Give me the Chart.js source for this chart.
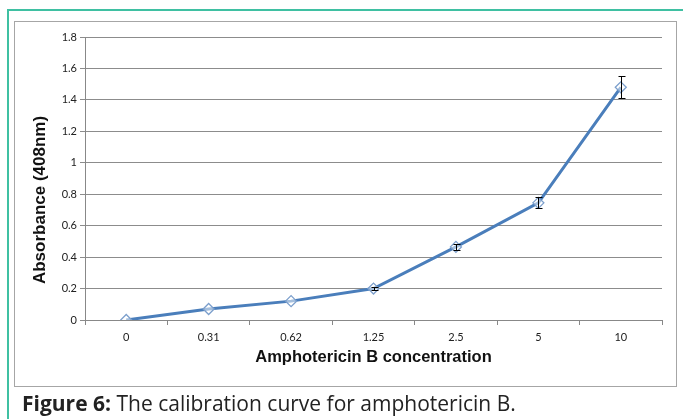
<!DOCTYPE html>
<html>
<head>
<meta charset="utf-8">
<script src="https://cdn.jsdelivr.net/npm/chart.js@4"></script>
<style>
  html, body { margin: 0; padding: 0; background: #fff; }
  #page { position: relative; width: 683px; height: 419px; overflow: hidden; }
  .frame { position: absolute; left: 7px; top: 9px; width: 700px; height: 420px;
           border-left: 2px solid #3fc0a2; border-top: 2px solid #3fc0a2; }
  .box { position: absolute; left: 14px; top: 21px; width: 661px; height: 364px;
         border: 1px solid #a6a6a6; }
  #chart { position: absolute; left: 0; top: 0; }
  .caption { position: absolute; left: 22px; top: 389px; font-family: "Open Sans", sans-serif;
             font-size: 21px; color: #222; white-space: nowrap; }
</style>
</head>
<body>
<div id="page">
  <div class="frame"></div>
  <div class="box"></div>
  <canvas id="chart" width="683" height="419"></canvas>
  <div class="caption"><b>Figure 6:</b> The calibration curve for amphotericin B.</div>
</div>
<script>
// data
const concentrations = ['0', '0.31', '0.62', '1.25', '2.5', '5', '10'];
const absorbance = [0, 0.07, 0.12, 0.2, 0.465, 0.745, 1.48];
const errors = [0, 0, 0, 0.008, 0.02, 0.035, 0.07];
const yTicks = [0, 0.2, 0.4, 0.6, 0.8, 1, 1.2, 1.4, 1.6, 1.8];
const yTitle = 'Absorbance (408nm)';

const tickFont = { family: 'Lato, sans-serif', size: 11 };
const titleFont = { family: '"Liberation Sans", Arial, sans-serif', size: 16.5, weight: 'bold' };

// black error bars on top of the line
const errorBars = {
  id: 'errorBars',
  afterDatasetsDraw(chart) {
    const ctx = chart.ctx;
    const meta = chart.getDatasetMeta(0);
    const y = chart.scales.y;
    ctx.save();
    ctx.strokeStyle = '#000';
    ctx.lineWidth = 1;
    meta.data.forEach((pt, i) => {
      const e = errors[i];
      if (!e) return;
      const top = Math.round(y.getPixelForValue(absorbance[i] + e)) + 0.5;
      const bot = Math.round(y.getPixelForValue(absorbance[i] - e)) + 0.5;
      const x = Math.round(pt.x) + 0.5;
      ctx.beginPath();
      ctx.moveTo(x, top); ctx.lineTo(x, bot);
      ctx.moveTo(x - 3, top); ctx.lineTo(x + 4, top);
      ctx.moveTo(x - 3, bot); ctx.lineTo(x + 4, bot);
      ctx.stroke();
    });
    ctx.restore();
  }
};

// y axis title sits a bit below the plot centre in the original
const yAxisTitle = {
  id: 'yAxisTitle',
  afterDraw(chart) {
    const ctx = chart.ctx;
    ctx.save();
    ctx.translate(40, 200);
    ctx.rotate(-Math.PI / 2);
    ctx.font = 'bold 17px "Liberation Sans", Arial, sans-serif';
    ctx.fillStyle = '#111';
    ctx.textAlign = 'center';
    ctx.textBaseline = 'middle';
    ctx.fillText(yTitle, 0, 0);
    ctx.restore();
  }
};

new Chart(document.getElementById('chart'), {
  type: 'line',
  data: {
    labels: concentrations,
    datasets: [{
      data: absorbance,
      borderColor: '#4a7ebb',
      borderWidth: 3,
      tension: 0,
      pointStyle: 'rectRot',
      pointRadius: 5.5,
      pointBackgroundColor: 'rgba(255,255,255,0.5)',
      pointBorderColor: '#7c9fcc',
      pointBorderWidth: 1.3
    }]
  },
  options: {
    responsive: false,
    animation: false,
    layout: { padding: { left: 30, top: 37, right: 21, bottom: 49 } },
    plugins: { legend: { display: false }, tooltip: { enabled: false } },
    scales: {
      x: {
        offset: true,
        afterFit(s) { s.height = 50; },
        grid: { offset: true, drawOnChartArea: false, drawTicks: true, tickLength: 5, color: '#888' },
        border: { color: '#888' },
        ticks: { color: '#222', font: tickFont, padding: 6, maxRotation: 0 },
        title: { display: true, text: 'Amphotericin B concentration', color: '#111', font: titleFont, padding: { top: 0, bottom: 3 } }
      },
      y: {
        min: 0,
        max: 1.8,
        afterFit(s) { s.width = 55; },
        afterBuildTicks(s) { s.ticks = yTicks.map(v => ({ value: v })); },
        grid: { color: '#8c8c8c', tickLength: 5, drawTicks: true },
        border: { color: '#888' },
        ticks: { color: '#222', font: tickFont, padding: 3, callback: v => String(v) }
      }
    }
  },
  plugins: [errorBars, yAxisTitle]
});
</script>
</body>
</html>
